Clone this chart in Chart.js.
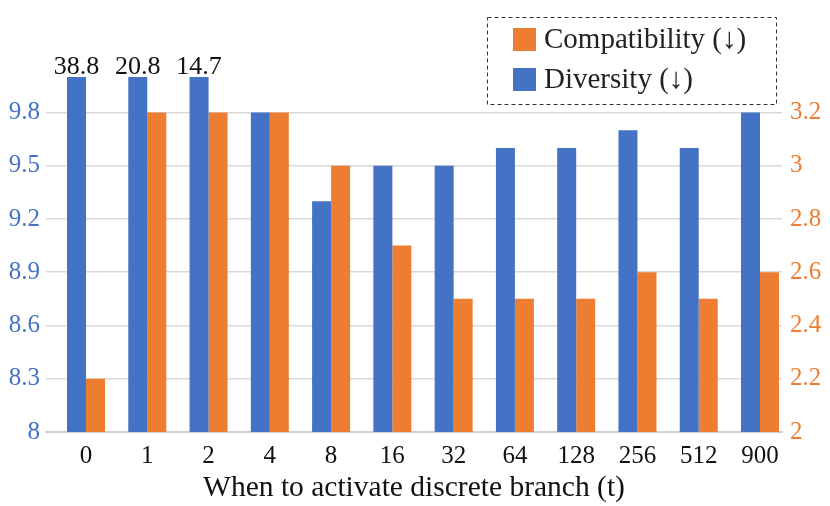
<!DOCTYPE html>
<html>
<head>
<meta charset="utf-8">
<script src="https://cdn.jsdelivr.net/npm/chart.js@4.4.1/dist/chart.umd.min.js"></script>
<style>
  html, body { margin: 0; padding: 0; background: #fff; }
  #wrap { width: 830px; height: 506px; }
</style>
</head>
<body>
<div id="wrap"><canvas id="bar-canvas" width="830" height="506"></canvas></div>
<script>
// values
var categories = ["0", "1", "2", "4", "8", "16", "32", "64", "128", "256", "512", "900"];
var diversity = [38.8, 20.8, 14.7, 9.8, 9.3, 9.5, 9.5, 9.6, 9.6, 9.7, 9.6, 9.8];
var compatibility = [2.2, 3.2, 3.2, 3.2, 3.0, 2.7, 2.5, 2.5, 2.5, 2.6, 2.5, 2.6];
var leftTicks = [8, 8.3, 8.6, 8.9, 9.2, 9.5, 9.8];
var rightTicks = [2, 2.2, 2.4, 2.6, 2.8, 3, 3.2];

var BLUE = "#4472c4";
var ORANGE = "#ed7d31";
var SERIF = "'Liberation Serif', 'Times New Roman', serif";

// labels above bars that run past the top of the axis
var overLabels = {
  id: "overLabels",
  afterDatasetsDraw: function(chart) {
    var ctx = chart.ctx;
    var meta = chart.getDatasetMeta(0);
    var ymax = chart.scales.y.max;
    ctx.save();
    ctx.font = "26px " + SERIF;
    ctx.fillStyle = "#111";
    ctx.textAlign = "center";
    ctx.textBaseline = "alphabetic";
    meta.data.forEach(function(bar, i) {
      if (diversity[i] > ymax) {
        ctx.fillText(diversity[i].toFixed(1), bar.x, chart.chartArea.top - 3);
      }
    });
    ctx.restore();
  }
};

// dashed legend box drawn over the plot
var boxLegend = {
  id: "boxLegend",
  afterDraw: function(chart) {
    var ctx = chart.ctx;
    var ds = chart.data.datasets;
    var order = [1, 0];
    ctx.save();
    ctx.strokeStyle = "#333";
    ctx.lineWidth = 1;
    ctx.setLineDash([4, 3]);
    ctx.fillStyle = "#fff";
    ctx.fillRect(487, 17, 289, 87);
    ctx.strokeRect(487.5, 17.5, 289, 87);
    ctx.setLineDash([]);
    ctx.font = "29px " + SERIF;
    ctx.textBaseline = "middle";
    order.forEach(function(k, j) {
      var y = 28 + j * 40;
      ctx.fillStyle = ds[k].backgroundColor;
      ctx.fillRect(513, y, 23, 23);
      ctx.fillStyle = "#222";
      ctx.fillText(ds[k].label, 544, y + 12);
    });
    ctx.restore();
  }
};

var ctx = document.getElementById("bar-canvas");

var chartData = {
  datasets: [{
    label: "Diversity (\u2193)",
    data: diversity.map(function(v, i) { return { x: i, y: v }; }),
    backgroundColor: BLUE,
    yAxisID: "y",
    categoryPercentage: 0.62,
    barPercentage: 1.0
  }, {
    label: "Compatibility (\u2193)",
    data: compatibility.map(function(v, i) { return { x: i, y: v }; }),
    backgroundColor: ORANGE,
    yAxisID: "y1",
    categoryPercentage: 0.62,
    barPercentage: 1.0
  }]
};

var options = {
  responsive: false,
  animation: false,
  layout: { padding: { top: 77, left: 0, right: 0, bottom: 0 } },
  plugins: {
    legend: { display: false },
    tooltip: { enabled: false }
  },
  scales: {
    x: {
      type: "linear",
      offset: false,
      min: -0.653,
      max: 11.359,
      afterBuildTicks: function(scale) {
        scale.ticks = categories.map(function(c, i) { return { value: i }; });
      },
      afterFit: function(scale) { scale.height = 74; },
      grid: { display: false, drawTicks: false },
      border: { color: "#d0d0d0", width: 2 },
      ticks: {
        autoSkip: false,
        maxRotation: 0,
        padding: 9,
        color: "#111",
        font: { family: SERIF, size: 25 },
        callback: function(v) { return categories[v]; }
      },
      title: {
        display: true,
        text: "When to activate discrete branch (t)",
        color: "#111",
        font: { family: SERIF, size: 29.5 },
        padding: { top: 0, bottom: 0 }
      }
    },
    y: {
      position: "left",
      min: 8,
      max: 10,
      afterBuildTicks: function(scale) {
        scale.ticks = leftTicks.map(function(v) { return { value: v }; });
      },
      afterFit: function(scale) { scale.width = 46; },
      grid: { color: "#d9d9d9", lineWidth: 1.5, drawTicks: false },
      border: { display: false },
      ticks: {
        padding: 6,
        color: BLUE,
        font: { family: SERIF, size: 25 },
        callback: function(v) { return String(v); }
      }
    },
    y1: {
      position: "right",
      min: 2,
      max: 3.3333,
      afterBuildTicks: function(scale) {
        scale.ticks = rightTicks.map(function(v) { return { value: v }; });
      },
      afterFit: function(scale) { scale.width = 48; },
      grid: { display: false, drawTicks: false },
      border: { display: false },
      ticks: {
        padding: 8,
        color: ORANGE,
        font: { family: SERIF, size: 25 },
        callback: function(v) { return String(v); }
      }
    }
  }
};

var chart = new Chart(ctx, {
  type: "bar",
  data: chartData,
  options: options,
  plugins: [overLabels, boxLegend]
});
</script>
</body>
</html>
